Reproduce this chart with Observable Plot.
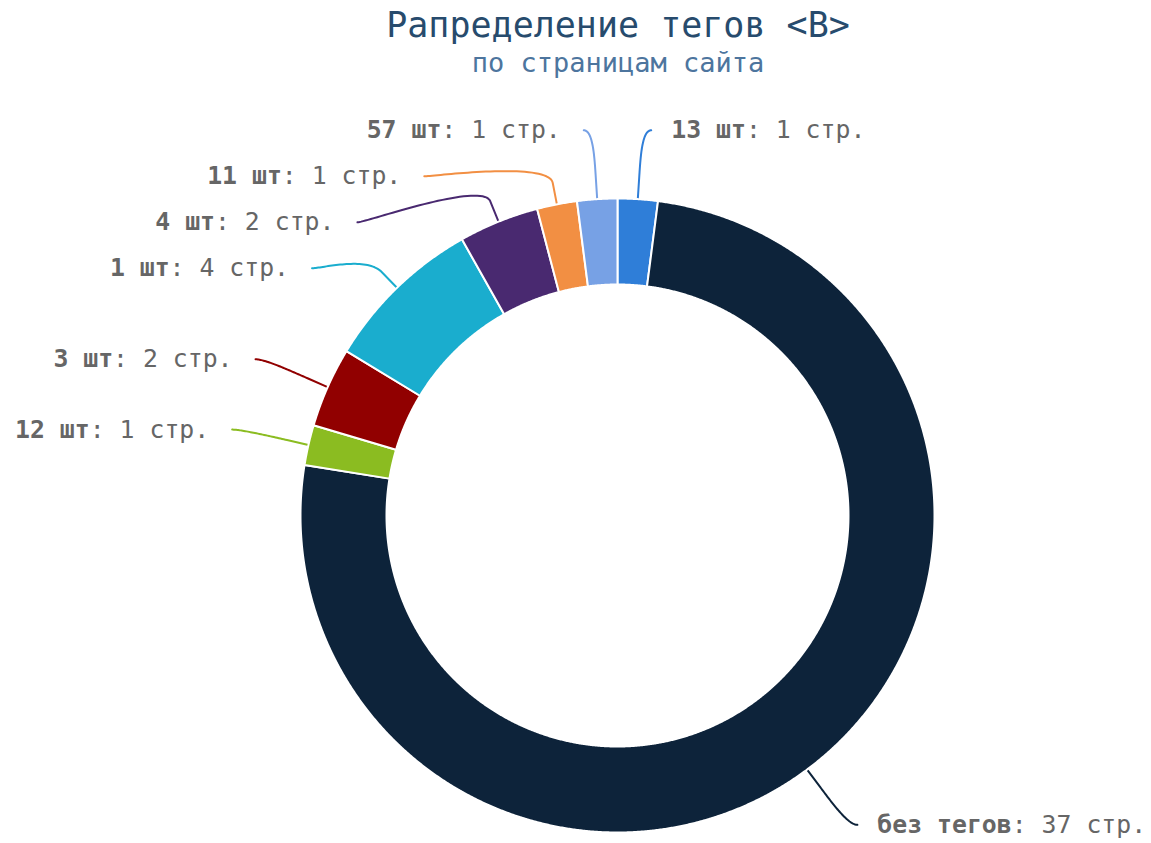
<!DOCTYPE html>
<html><head><meta charset="utf-8">
<script src="https://cdn.jsdelivr.net/npm/d3@7"></script>
<script src="https://cdn.jsdelivr.net/npm/@observablehq/plot@0.6"></script>
<style>
html,body{margin:0;padding:0;background:#fff;overflow:hidden;}
#header{position:relative;width:1151px;height:88px;}
.t{position:absolute;left:618px;transform:translateX(-50%);white-space:nowrap;font-family:"DejaVu Sans Mono",monospace;}
#title{top:5px;font-size:35px;line-height:40px;color:#274b6d;}
#subtitle{top:48px;font-size:27px;line-height:30px;color:#4d759e;}
</style></head><body>
<div id="header"><div id="title" class="t"></div><div id="subtitle" class="t"></div></div>
<div id="chart"></div>
<script>
const titleText = "Рапределение тегов <B>";
const subtitleText = "по страницам сайта";
const names = ["13 шт", "без тегов", "12 шт", "3 шт", "1 шт", "4 шт", "11 шт", "57 шт"];
const pages = [1, 37, 1, 2, 4, 2, 1, 1];
const colors = ["#2f7ed8", "#0d233a", "#8bbc21", "#910000", "#1aadce", "#492970", "#f28f43", "#77a1e5"];
const unit = "стр.";

document.getElementById("title").textContent = titleText;
document.getElementById("subtitle").textContent = subtitleText;

const W = 1151, H = 755;
const CX = 617, CY = 427;
const R = 317, R0 = 231, RL = 386, STEP = 46, CO = 22;
const FS = 24.8, CW = 0.602 * FS;
const FONT = "DejaVu Sans Mono";

const arcs = d3.pie().sort(null).value(d => d)(pages);

// slice polygons (geometry of each arc)
const slicePts = [];
arcs.forEach((p, i) => {
  const n = Math.max(2, Math.ceil((p.endAngle - p.startAngle) / 0.004));
  for (let k = 0; k <= n; k++) {
    const a = p.startAngle + (p.endAngle - p.startAngle) * k / n;
    slicePts.push({i, x: R * Math.sin(a), y: -R * Math.cos(a)});
  }
  for (let k = n; k >= 0; k--) {
    const a = p.startAngle + (p.endAngle - p.startAngle) * k / n;
    slicePts.push({i, x: R0 * Math.sin(a), y: -R0 * Math.cos(a)});
  }
});

// label layout (Highcharts-like)
const labels = arcs.map((p, i) => {
  const m = (p.startAngle + p.endAngle) / 2;
  return {i, m, left: Math.sin(m) < 0, y0: -Math.cos(m) * RL};
});
for (const side of [true, false]) {
  const g = labels.filter(l => l.left === side).sort((a, b) => a.y0 - b.y0);
  let prev = -Infinity;
  for (const l of g) { l.y = Math.max(l.y0, prev + STEP, -RL); prev = l.y; }
}
labels.forEach(l => {
  const dy = Math.min(Math.abs(l.y), RL);
  const s = l.left ? -1 : 1;
  l.s = s;
  l.bx = s * Math.sqrt(RL * RL - dy * dy);
  l.tx = l.bx + (l.left ? -32 : 29);
  l.name = names[l.i];
  l.rest = ": " + pages[l.i] + " " + unit;
});

// connectors: cubic bezier from label to just outside the pie, then to the edge
const connPts = [];
labels.forEach(l => {
  const sx = Math.sin(l.m), cy = -Math.cos(l.m);
  const P0 = [l.bx + l.s * 9, l.y];
  const P1 = [l.bx, l.y];
  const P2 = [(R + 2 * CO) * sx, (R + 2 * CO) * cy];
  const P3 = [(R + CO) * sx, (R + CO) * cy];
  const n = 40;
  for (let k = 0; k <= n; k++) {
    const t = k / n, u = 1 - t;
    const x = u*u*u*P0[0] + 3*u*u*t*P1[0] + 3*u*t*t*P2[0] + t*t*t*P3[0];
    const y = u*u*u*P0[1] + 3*u*u*t*P1[1] + 3*u*t*t*P2[1] + t*t*t*P3[1];
    connPts.push({i: l.i, x, y});
  }
  connPts.push({i: l.i, x: R * sx, y: R * cy});
});

const leftL = labels.filter(l => l.left);
const rightL = labels.filter(l => !l.left);
const txtBase = {fontFamily: FONT, fontSize: FS, fill: "#666666", lineAnchor: "middle"};

const chart = Plot.plot({
  width: W, height: H, margin: 0,
  style: {background: "white", overflow: "visible"},
  x: {domain: [-CX, W - CX], range: [0, W], axis: null},
  y: {domain: [-CY, H - CY], range: [0, H], axis: null},
  color: {type: "identity"},
  marks: [
    Plot.line(connPts, {x: "x", y: "y", z: "i", stroke: d => colors[d.i], strokeWidth: 2, fill: "none", curve: "linear"}),
    Plot.line(slicePts, {x: "x", y: "y", z: "i", fill: d => colors[d.i], stroke: "white", strokeWidth: 2, strokeLinejoin: "round", curve: "linear-closed"}),
    Plot.text(leftL, {...txtBase, x: "tx", y: "y", text: "rest", textAnchor: "end"}),
    Plot.text(leftL, {...txtBase, x: d => d.tx - d.rest.length * CW, y: "y", text: "name", textAnchor: "end", fontWeight: "bold"}),
    Plot.text(rightL, {...txtBase, x: "tx", y: "y", text: "name", textAnchor: "start", fontWeight: "bold"}),
    Plot.text(rightL, {...txtBase, x: d => d.tx + d.name.length * CW, y: "y", text: "rest", textAnchor: "start"})
  ]
});
document.getElementById("chart").appendChild(chart);
</script>
</body></html>
